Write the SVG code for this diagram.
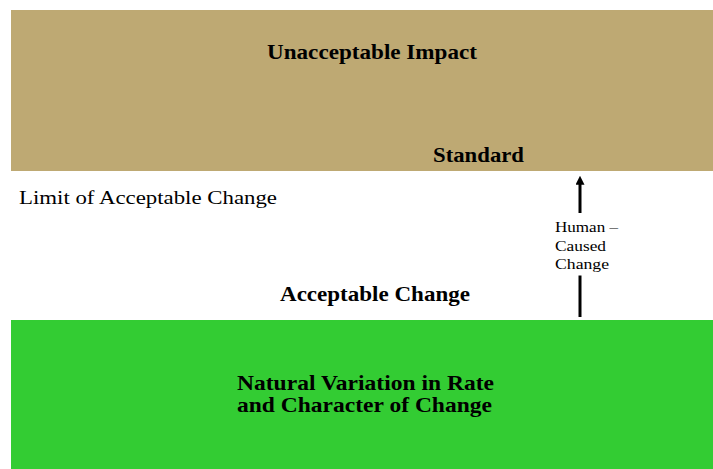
<svg xmlns="http://www.w3.org/2000/svg" width="713" height="469" viewBox="0 0 713 469">
  <defs>
    <style>
      .band-label { font-family: "Liberation Serif", "Times New Roman", serif; font-weight: bold; font-size: 21px; fill: #000; }
      .plain { font-family: "Liberation Serif", "Times New Roman", serif; font-size: 19.5px; fill: #000; }
      .small { font-family: "Liberation Serif", "Times New Roman", serif; font-size: 15px; fill: #000; }
      .conn { stroke: #000; stroke-width: 3; fill: none; }
    </style>
    <marker id="head" viewBox="0 0 10 10" refX="2" refY="5" markerWidth="3" markerHeight="3" orient="auto-start-reverse" markerUnits="strokeWidth">
      <path d="M0,0 L10,5 L0,10 z" fill="#000"/>
    </marker>
  </defs>
  <rect width="713" height="469" fill="#fff"/>

  <g id="unacceptable">
    <rect x="11" y="10" width="702" height="161" fill="#BEA973"/>
    <text class="band-label" x="267" y="59" textLength="210" lengthAdjust="spacingAndGlyphs">Unacceptable Impact</text>
    <text class="band-label" x="433" y="162" textLength="91" lengthAdjust="spacingAndGlyphs">Standard</text>
  </g>

  <g id="limit">
    <text class="plain" x="19" y="204" textLength="258" lengthAdjust="spacingAndGlyphs">Limit of Acceptable Change</text>
    <text class="band-label" x="280" y="300.5" textLength="190" lengthAdjust="spacingAndGlyphs">Acceptable Change</text>
  </g>

  <g id="natural">
    <rect x="11" y="320" width="702" height="149" fill="#33CC33"/>
    <text class="band-label" x="237" y="390" textLength="257" lengthAdjust="spacingAndGlyphs">Natural Variation in Rate</text>
    <text class="band-label" x="237" y="412" textLength="255" lengthAdjust="spacingAndGlyphs">and Character of Change</text>
  </g>

  <g id="connectors">
    <line class="conn" x1="580" y1="213" x2="580" y2="183" marker-end="url(#head)"/>
    <line class="conn" x1="580" y1="275.5" x2="580" y2="317"/>
    <text class="small" x="555" y="232" textLength="63" lengthAdjust="spacingAndGlyphs">Human –</text>
    <text class="small" x="555" y="250.5" textLength="51" lengthAdjust="spacingAndGlyphs">Caused</text>
    <text class="small" x="555" y="269" textLength="54" lengthAdjust="spacingAndGlyphs">Change</text>
  </g>
</svg>
